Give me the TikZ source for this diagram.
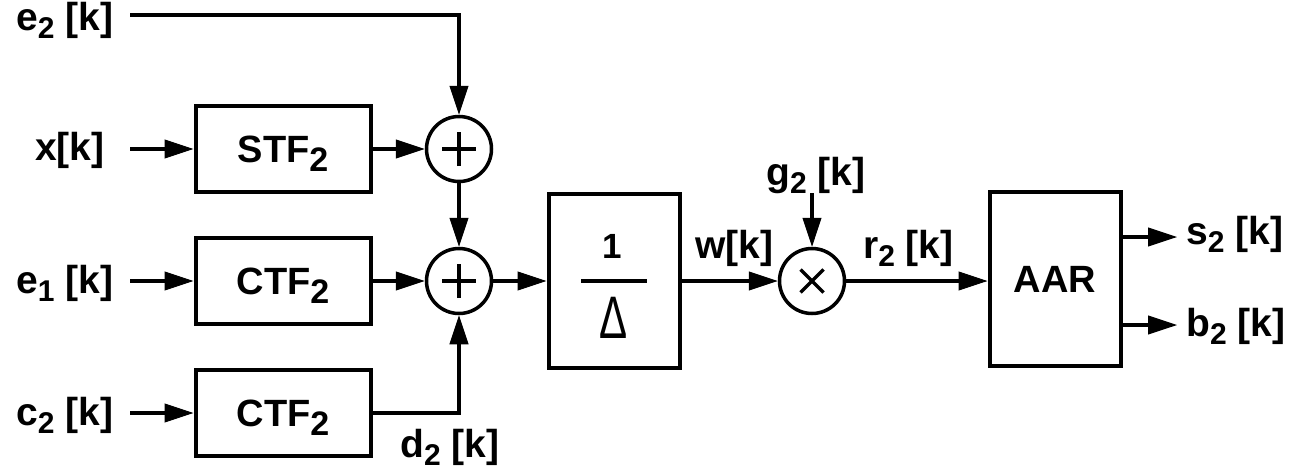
\documentclass[tikz,border=0pt]{standalone}
\usepackage{fontspec}
\setmainfont{Liberation Sans}
\usetikzlibrary{arrows.meta}
\newcommand\lsub[1]{\raisebox{-8pt}[0pt][0pt]{\fontsize{30}{30}\selectfont #1}}
\newcommand\bsub[1]{\raisebox{-9pt}[0pt][0pt]{\fontsize{34}{34}\selectfont #1}}
\begin{document}
\begin{tikzpicture}[x=1pt,y=-1pt,
  wire/.style={line width=4pt},
  arr/.style={wire,-{Triangle[length=29pt,width=19pt,line width=1pt]}},
  blk/.style={draw,line width=4pt,rectangle,minimum width=175pt,minimum height=86pt,inner sep=0,font=\fontsize{38}{38}\selectfont\bfseries},
  tall/.style={draw,line width=4pt,rectangle,minimum width=131pt,minimum height=174pt,inner sep=0,font=\fontsize{38}{38}\selectfont\bfseries},
  junc/.style={draw,line width=3.5pt,circle,minimum size=65pt,inner sep=0},
  lab/.style={anchor=base west,inner sep=0,font=\fontsize{39}{39}\selectfont\bfseries},
  sym/.style={line width=3.5pt},
]
\useasboundingbox (0,0) rectangle (1297,471);
% blocks
\node[blk] (stf) at (283,149) {STF\bsub{2}};
\node[blk] (ctfa) at (283,281) {CTF\bsub{2}};
\node[blk] (ctfb) at (283,413) {CTF\bsub{2}};
\node[junc] (sa) at (459,149) {};
\node[junc] (sb) at (459,281) {};
\node[tall] (dl) at (614,281) {};
\node[junc] (mu) at (812,281) {};
\node[tall] (aar) at (1055,279) {AAR};
% contents of 1/Delta
\node[inner sep=0,font=\fontsize{35}{35}\selectfont\bfseries] (one) at (612,246) {1};
\draw[wire] ([xshift=-33pt]dl.center) -- ([xshift=33pt]dl.center);
\node[inner sep=0] (del) at (614,318) {\scalebox{1.05}[1.5]{\fontsize{40}{40}\selectfont Δ}};
% plus and times
\draw[sym] ([xshift=-17pt]sa.center) -- ([xshift=17pt]sa.center)
           ([yshift=-17pt]sa.center) -- ([yshift=17pt]sa.center);
\draw[sym] ([xshift=-17pt]sb.center) -- ([xshift=17pt]sb.center)
           ([yshift=-17pt]sb.center) -- ([yshift=17pt]sb.center);
\draw[sym] ([shift={(-11.5,-11.5)}]mu.center) -- ([shift={(11.5,11.5)}]mu.center)
           ([shift={(-11.5,11.5)}]mu.center) -- ([shift={(11.5,-11.5)}]mu.center);
% labels
\node[lab] (le2) at (16,30) {e\lsub{2} [k]};
\node[lab] (lx) at (35,160) {x[k]};
\node[lab] (le1) at (16,293) {e\lsub{1} [k]};
\node[lab] (lc2) at (16,425) {c\lsub{2} [k]};
\node[lab] (ld2) at (400,457) {d\lsub{2} [k]};
\node[lab] (lg2) at (766,185) {g\lsub{2} [k]};
\node[lab] (lw) at (695,258) {w[k]};
\node[lab] (lr2) at (863,258) {r\lsub{2} [k]};
\node[lab] (ls2) at (1186,244) {s\lsub{2} [k]};
\node[lab] (lb2) at (1186,336) {b\lsub{2} [k]};
% connectors
\coordinate (e2in) at (130,15);
\coordinate (xin) at (130,149);
\coordinate (e1in) at (130,281);
\coordinate (c2in) at (130,413);
\coordinate (g2in) at (812,193);
\coordinate (s2out) at (1177,237);
\coordinate (b2out) at (1177,325);
\draw[arr] (e2in) -| (sa.north);
\draw[arr] (xin) -- (stf.west);
\draw[arr] (stf.east) -- (sa.west);
\draw[arr] (sa.south) -- (sb.north);
\draw[arr] (e1in) -- (ctfa.west);
\draw[arr] (ctfa.east) -- (sb.west);
\draw[arr] (c2in) -- (ctfb.west);
\draw[arr] (ctfb.east) -| (sb.south);
\draw[arr] (sb.east) -- (dl.west);
\draw[arr] (dl.east) -- (mu.west);
\draw[arr] (g2in) -- (mu.north);
\draw[arr] (mu.east) -- (aar.west |- mu.east);
\draw[arr] (aar.east |- s2out) -- (s2out);
\draw[arr] (aar.east |- b2out) -- (b2out);
\end{tikzpicture}
\end{document}
